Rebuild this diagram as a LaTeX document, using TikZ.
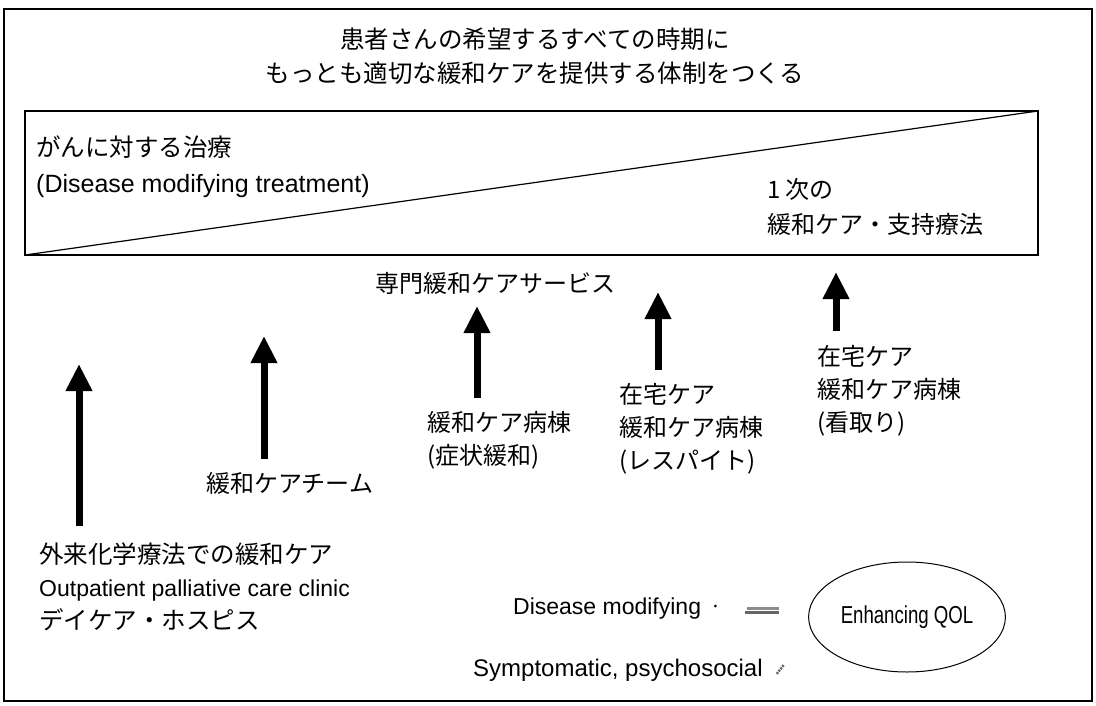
\documentclass[tikz,border=0pt]{standalone}
\usepackage{fontspec}
\setmainfont{Liberation Sans}
\newfontfamily\jpfont{Noto Sans CJK JP}
\newfontfamily\narrowfont[FakeStretch=0.76]{Liberation Sans}
\usetikzlibrary{arrows.meta,shapes.geometric}

\tikzset{
  jp/.style={font=\jpfont\fontsize{24}{35}\selectfont, inner sep=0pt, align=left},
  en/.style={font=\fontsize{23}{30}\selectfont, inner sep=0pt},
  uparr/.style={line width=7pt, -{Triangle[length=27pt,width=25pt]}},
  frame/.style={line width=1.2pt}
}

\begin{document}
\begin{tikzpicture}[x=1pt,y=-1pt]
\useasboundingbox (0,0) rectangle (1096,705);

% frame and treatment box
\draw[frame] (4,9) rectangle (1092,701);
\draw[frame] (25,111) rectangle (1038,255);
\draw[frame] (25,255) -- (1038,111);

% heading
\node[jp, align=center, anchor=north, font=\jpfont\fontsize{24.5}{34}\selectfont] (head) at (535,28)
  {患者さんの希望するすべての時期に\\もっとも適切な緩和ケアを提供する体制をつくる};

% inside the box
\node[jp, anchor=north west, font=\jpfont\fontsize{24.5}{36}\selectfont] (cure) at (36,136)
  {がんに対する治療\\{\rmfamily\fontsize{25}{36}\selectfont (Disease modifying treatment)}};
\node[jp, anchor=north west] (primary) at (767,178) {1 次の\\緩和ケア・支持療法};

\node[jp, anchor=north] (special) at (495,272) {専門緩和ケアサービス};

% services
\node[jp, anchor=north west, font=\jpfont\fontsize{24.5}{33}\selectfont] (out) at (39,543)
  {外来化学療法での緩和ケア\\{\rmfamily\fontsize{23}{33}\selectfont Outpatient palliative care clinic}\\デイケア・ホスピス};
\node[jp, anchor=north west] (team) at (206,472) {緩和ケアチーム};
\node[jp, anchor=north west, font=\jpfont\fontsize{24}{33}\selectfont] (ward) at (427,411) {緩和ケア病棟\\(症状緩和)};
\node[jp, anchor=north west, font=\jpfont\fontsize{24}{33}\selectfont] (respite) at (619,383) {在宅ケア\\緩和ケア病棟\\(レスパイト)};
\node[jp, anchor=north west, font=\jpfont\fontsize{24}{33}\selectfont] (terminal) at (817,345)
  {在宅ケア\\緩和ケア病棟\\(看取り)};

% arrows
\coordinate (a1) at (79,526);  \coordinate (t1) at (79,364);
\coordinate (a2) at (264,459); \coordinate (t2) at (264,336);
\coordinate (a3) at (477,398); \coordinate (t3) at (477,306);
\coordinate (a4) at (658,370); \coordinate (t4) at (658,292);
\coordinate (a5) at (836,331); \coordinate (t5) at (836,272);
\foreach \i in {1,...,5} \draw[uparr] (a\i) -- (t\i);

% legend
\node[en, anchor=base west] (dm) at (513,614) {Disease modifying};
\node[en, anchor=base west, font=\fontsize{24}{30}\selectfont] (sp) at (473,676) {Symptomatic, psychosocial};
\fill (dm.east) ++(14,-2) circle (1.5pt);
\fill[black!60] ([xshift=44pt,yshift=-3pt]dm.east) rectangle ++(34,3);
\fill[black!45] ([xshift=46pt,yshift=1pt]dm.east) rectangle ++(32,3);
\draw[black!60, line width=2.5pt, dash pattern=on 2pt off 1pt] ([xshift=14pt,yshift=-4pt]sp.east) -- ++(7,-9);
\node[ellipse, draw, line width=1pt, minimum width=180pt, minimum height=110pt,
  font=\narrowfont\fontsize{24.5}{28}\selectfont] (qol) at (907,617) {Enhancing QOL};

\end{tikzpicture}
\end{document}
